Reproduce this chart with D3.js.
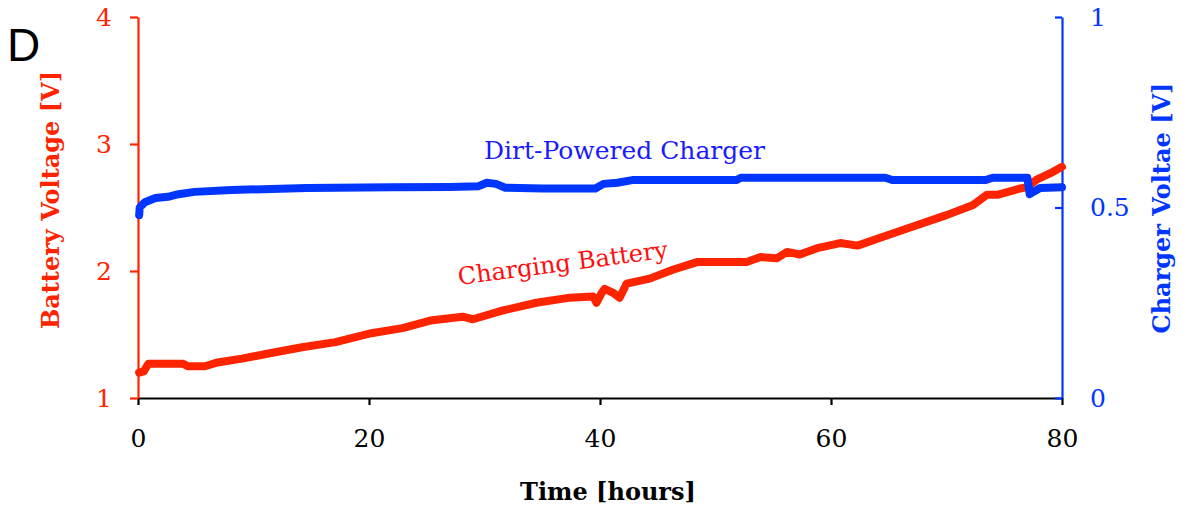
<!DOCTYPE html>
<html>
<head>
<meta charset="utf-8">
<script src="https://cdn.jsdelivr.net/npm/d3@7"></script>
<style>
  body { margin: 0; background: #fff; }
  svg { display: block; }
</style>
</head>
<body>
<svg id="chart"></svg>
<script>
// time in hours
const batteryHours = [0.1, 0.5, 0.9, 3.9, 4.3, 5.8, 6.9, 9, 11.3, 14.2, 17.1, 20.2, 22.9, 25.3, 28.1, 29, 31.6, 34.5, 37.4, 39.4, 39.7, 40.1, 40.4, 41.1, 41.7, 42.3, 44.3, 46.3, 48.4, 52.7, 53.9, 55.3, 56.2, 57.3, 58.8, 60.8, 62.3, 64.2, 67.1, 70, 72.3, 73.5, 74.4, 76.4, 77, 77.8, 79, 80];
const batteryVolts = [1.2, 1.21, 1.27, 1.27, 1.25, 1.25, 1.28, 1.31, 1.35, 1.4, 1.44, 1.51, 1.55, 1.61, 1.64, 1.62, 1.69, 1.75, 1.79, 1.8, 1.75, 1.82, 1.86, 1.83, 1.79, 1.9, 1.94, 2.01, 2.07, 2.07, 2.11, 2.1, 2.15, 2.13, 2.18, 2.22, 2.2, 2.26, 2.35, 2.44, 2.52, 2.6, 2.6, 2.65, 2.66, 2.72, 2.77, 2.82];

const chargerHours = [0.1, 0.15, 0.6, 1.5, 2.6, 3.5, 4.9, 8.1, 14.6, 22, 27, 29.5, 30.2, 31, 31.8, 35, 39.6, 40.3, 41.5, 42.8, 51.8, 52.2, 64.7, 65.3, 73.4, 74, 77, 77.2, 78.1, 80];
const chargerVolts = [0.48, 0.5, 0.514, 0.525, 0.528, 0.535, 0.541, 0.546, 0.551, 0.553, 0.554, 0.556, 0.565, 0.562, 0.552, 0.55, 0.55, 0.562, 0.565, 0.572, 0.572, 0.578, 0.578, 0.572, 0.572, 0.578, 0.578, 0.535, 0.551, 0.553];

const xTicks = [0, 20, 40, 60, 80];
const leftTicks = [1, 2, 3, 4];
const rightTicks = [0, 0.5, 1];

const W = 1183, H = 510;
const plotL = 138, plotR = 1062, plotT = 17, plotB = 398;

const red = "#ff2400", blue = "#0036ff";
const serif = "'DejaVu Serif', 'Liberation Serif', serif";

const svg = d3.select("#chart").attr("width", W).attr("height", H);

const x = d3.scaleLinear().domain([0, 80]).range([plotL, plotR]);
const yL = d3.scaleLinear().domain([1, 4]).range([plotB, plotT]);
const yR = d3.scaleLinear().domain([0, 1]).range([plotB, plotT]);

// axes
const xAxis = svg.append("g")
  .attr("transform", `translate(0,${plotB})`)
  .call(d3.axisBottom(x).tickValues(xTicks).tickFormat(d3.format("d")).tickSize(7).tickSizeOuter(0).tickPadding(24));

const lAxis = svg.append("g")
  .attr("transform", `translate(${plotL},0)`)
  .call(d3.axisLeft(yL).tickValues(leftTicks).tickFormat(d3.format("d")).tickSize(8).tickSizeOuter(0).tickPadding(18));

const rAxis = svg.append("g")
  .attr("transform", `translate(${plotR},0)`)
  .call(d3.axisRight(yR).tickValues(rightTicks).tickFormat(d => d).tickSize(-7).tickSizeOuter(0).tickPadding(28));

[xAxis, lAxis, rAxis].forEach(g => {
  g.selectAll("text").style("font-family", serif).style("font-size", "25px");
  g.selectAll("path, line").attr("stroke-width", 2.2);
});
xAxis.selectAll("path, line").attr("stroke", "#000");
xAxis.selectAll("text").attr("fill", "#000");
lAxis.selectAll("path, line").attr("stroke", red);
lAxis.selectAll("text").attr("fill", red);
rAxis.selectAll("path, line").attr("stroke", blue);
rAxis.selectAll("text").attr("fill", blue);

// lines
const battery = batteryHours.map((h, i) => [h, batteryVolts[i]]);
const charger = chargerHours.map((h, i) => [h, chargerVolts[i]]);

svg.append("path")
  .datum(battery)
  .attr("fill", "none")
  .attr("stroke", red)
  .attr("stroke-width", 8)
  .attr("stroke-linecap", "round")
  .attr("stroke-linejoin", "round")
  .attr("d", d3.line().x(d => x(d[0])).y(d => yL(d[1])));

svg.append("path")
  .datum(charger)
  .attr("fill", "none")
  .attr("stroke", blue)
  .attr("stroke-width", 8)
  .attr("stroke-linecap", "round")
  .attr("stroke-linejoin", "round")
  .attr("d", d3.line().x(d => x(d[0])).y(d => yR(d[1])));

// titles
svg.append("text")
  .attr("x", 608).attr("y", 500)
  .attr("text-anchor", "middle")
  .style("font-family", serif).style("font-weight", "bold").style("font-size", "24px")
  .text("Time [hours]");

svg.append("text")
  .attr("transform", "translate(59,200) rotate(-90)")
  .attr("text-anchor", "middle")
  .attr("fill", red)
  .style("font-family", serif).style("font-weight", "bold").style("font-size", "24px")
  .text("Battery Voltage [V]");

svg.append("text")
  .attr("transform", "translate(1170,208) rotate(-90)")
  .attr("text-anchor", "middle")
  .attr("fill", blue)
  .style("font-family", serif).style("font-weight", "bold").style("font-size", "24px")
  .text("Charger Voltae [V]");

// annotations
svg.append("text")
  .attr("x", 484).attr("y", 159)
  .attr("fill", "#1a1aff")
  .style("font-family", serif).style("font-size", "25px")
  .text("Dirt-Powered Charger");

svg.append("text")
  .attr("transform", "translate(459,285) rotate(-7.5)")
  .attr("fill", "#ff0d0d")
  .style("font-family", serif).style("font-size", "24px")
  .text("Charging Battery");

svg.append("text")
  .attr("x", 7).attr("y", 61)
  .style("font-family", "'Liberation Sans', Arial, sans-serif").style("font-size", "46px")
  .text("D");
</script>
</body>
</html>
